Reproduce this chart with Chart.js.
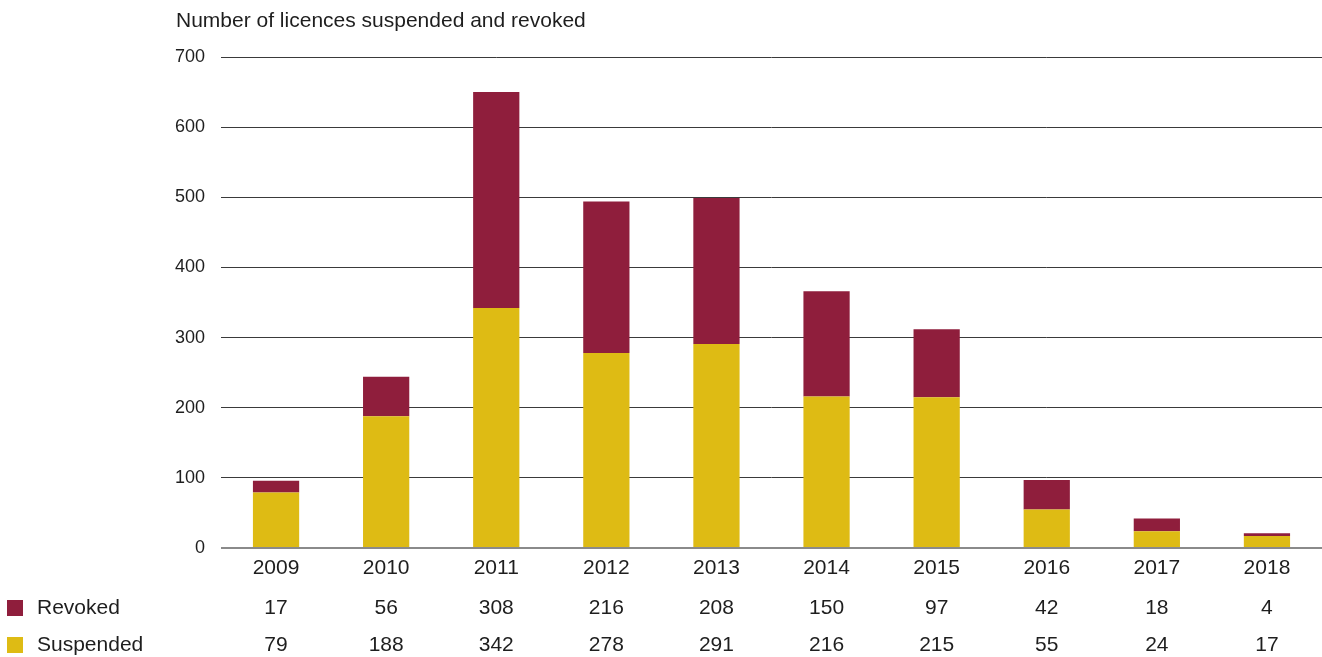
<!DOCTYPE HTML>

<head>
	<title>Licences suspended and revoked</title>
	<script src="https://cdn.jsdelivr.net/npm/chart.js@4"></script>
	<style>
		body { margin: 0; background: #fff; }
	</style>
</head>

<body>
	<div style="width:1322px;height:657px">
		<canvas id="myChart" width="1322" height="657"></canvas>
	</div>
	<script>
		const years = ['2009', '2010', '2011', '2012', '2013', '2014', '2015', '2016', '2017', '2018'];
		const revoked = [17, 56, 308, 216, 208, 150, 97, 42, 18, 4];
		const suspended = [79, 188, 342, 278, 291, 216, 215, 55, 24, 17];
		const yTicks = [0, 100, 200, 300, 400, 500, 600, 700];

		const RED = '#8f1e3c';
		const YELLOW = '#debb14';
		const FONT = '"Liberation Sans", Arial, sans-serif';
		const TEXT = '#1e1e1e';

		// title + table under the x axis
		const tablePlugin = {
			id: 'table',
			afterDraw(chart) {
				const ctx = chart.ctx;
				const x = chart.scales.x;
				ctx.save();
				ctx.font = '21px ' + FONT;
				ctx.fillStyle = TEXT;
				ctx.textBaseline = 'middle';
				ctx.textAlign = 'left';
				ctx.fillText('Number of licences suspended and revoked', 176, 21);

				const rows = [
					{ label: 'Revoked', color: RED, values: revoked, y: 608 },
					{ label: 'Suspended', color: YELLOW, values: suspended, y: 645 }
				];
				rows.forEach(r => {
					ctx.fillStyle = r.color;
					ctx.fillRect(7, r.y - 8, 16, 16);
					ctx.fillStyle = TEXT;
					ctx.textAlign = 'left';
					ctx.fillText(r.label, 37, r.y);
					ctx.textAlign = 'center';
					r.values.forEach((v, i) => {
						ctx.fillText(String(v), x.getPixelForValue(i), r.y);
					});
				});
				ctx.restore();
			}
		};

		const data = {
			labels: years,
			datasets: [{
				label: 'Suspended',
				backgroundColor: YELLOW,
				data: suspended,
			},
			{
				label: 'Revoked',
				backgroundColor: RED,
				data: revoked,
			}]
		};

		const config = {
			type: 'bar',
			data: data,
			plugins: [tablePlugin],
			options: {
				responsive: false,
				animation: false,
				datasets: {
					bar: {
						categoryPercentage: 1,
						barPercentage: 0.42
					}
				},
				layout: {
					padding: { top: 57, right: 0, left: 0, bottom: 0 }
				},
				plugins: {
					legend: { display: false },
					tooltip: { enabled: false }
				},
				scales: {
					x: {
						stacked: true,
						grid: { display: false, drawTicks: false },
						border: { display: false },
						ticks: {
							color: TEXT,
							font: { family: FONT, size: 21 },
							padding: 8
						},
						afterFit(scale) { scale.height = 109; }
					},
					y: {
						stacked: true,
						min: 0,
						max: 700,
						afterBuildTicks(scale) {
							scale.ticks = yTicks.map(v => ({ value: v }));
						},
						grid: {
							drawTicks: false,
							color: c => c.tick && c.tick.value === 0 ? '#8a8a8a' : '#3a3a3a',
							lineWidth: c => c.tick && c.tick.value === 0 ? 2 : 1
						},
						border: { display: false },
						ticks: {
							color: TEXT,
							font: { family: FONT, size: 18 },
							padding: 16
						},
						afterFit(scale) { scale.width = 221; }
					}
				}
			}
		};

		const myChart = new Chart(
			document.getElementById('myChart'),
			config
		);
	</script>
</body>
